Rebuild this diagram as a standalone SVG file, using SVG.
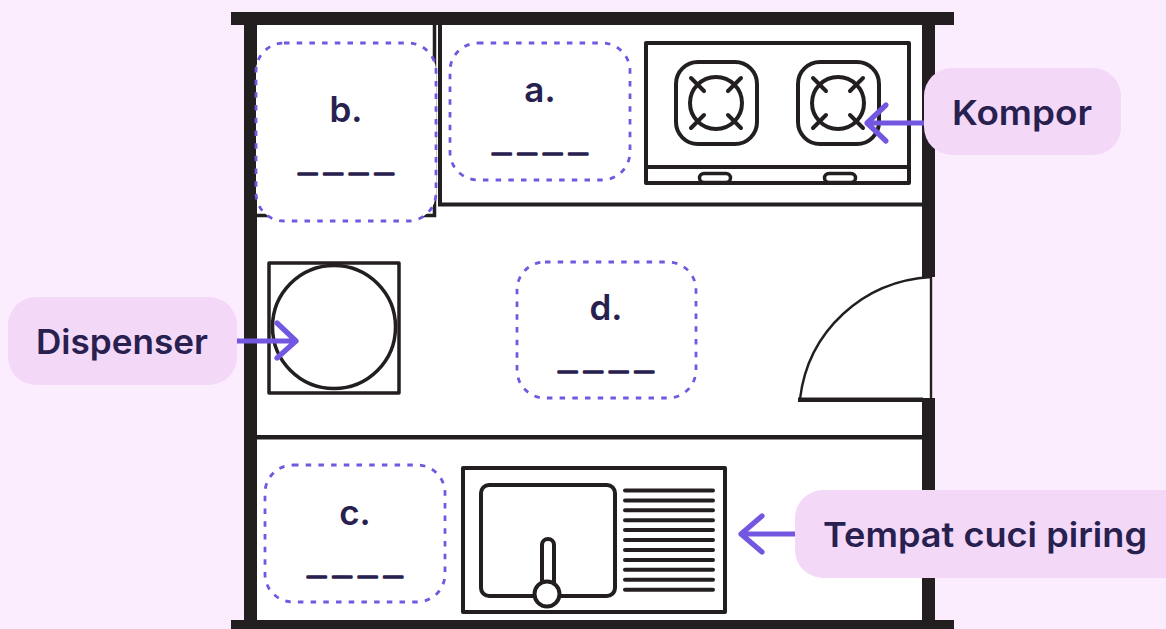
<svg xmlns="http://www.w3.org/2000/svg" width="1166" height="629" viewBox="0 0 1166 629">
<style>
text{font-family:"Inter","Lato","Liberation Sans",sans-serif;font-weight:600;fill:#28204f}
.lbl{font-size:34px}
.ans{font-size:35px}
.blank{font-family:"Lato","Liberation Sans",sans-serif;font-size:28px;letter-spacing:2.5px;stroke:#28204f;stroke-width:1.6px;stroke-linejoin:round}
.wall{fill:#231f20}
.ln{fill:none;stroke:#231f20;stroke-width:4;stroke-linejoin:round;stroke-linecap:round}
.thin{stroke-width:3.5}
.box{fill:#fff;stroke:#7357e0;stroke-width:2.8;stroke-dasharray:5.5 7.2}
.pill{fill:#f3d8f8}
.arrow{fill:none;stroke:#7357e0;stroke-width:5.2;stroke-linecap:round;stroke-linejoin:round}
</style>
<rect width="1166" height="629" fill="#fbedfe"/>
<g id="room">
<rect x="257" y="25" width="665" height="595" fill="#fff"/>
<path d="M922 277H931V398H922Z" fill="#fff"/>
<rect class="wall" x="231" y="12" width="723" height="13"/>
<rect class="wall" x="231" y="620" width="723" height="9"/>
<rect class="wall" x="244" y="25" width="13" height="595"/>
<rect class="wall" x="922" y="25" width="13" height="252"/>
<rect class="wall" x="922" y="398" width="13" height="222"/>
<rect class="wall" x="257" y="435" width="665" height="4.5"/>
<path d="M440 25V204.500H922" fill="none" stroke="#231f20" stroke-width="4"/>
<path d="M434.500 25V215.500H257" fill="none" stroke="#231f20" stroke-width="3.500"/>
</g>
<g id="door">
<path d="M931 277V399M800 399C808 331 863 281 931 277" fill="none" stroke="#231f20" stroke-width="2.400"/>
<rect class="wall" x="798" y="397.500" width="125" height="4.500"/>
</g>
<g id="stove">
<rect class="ln" x="646" y="43" width="263" height="140"/>
<path class="ln" d="M646 167H909"/>
<rect class="ln thin" x="699.500" y="173.500" width="31" height="9" rx="4.500"/>
<rect class="ln thin" x="824.500" y="173.500" width="31" height="9" rx="4.500"/>
<rect class="ln" x="676" y="62" width="81" height="82" rx="22"/>
<circle class="ln" cx="716" cy="103" r="26"/>
<path class="ln" d="M691 78L704 91M741 78L728 91M691 128L704 115M741 128L728 115"/>
<rect class="ln" x="798" y="62" width="81" height="82" rx="22"/>
<circle class="ln" cx="838" cy="103" r="26"/>
<path class="ln" d="M813 78L826 91M863 78L850 91M813 128L826 115M863 128L850 115"/>
</g>
<g id="dispenser">
<rect class="ln thin" x="269" y="263" width="130" height="130"/>
<circle class="ln thin" cx="334" cy="327" r="61.500"/>
</g>
<g id="sink">
<rect class="ln" x="463" y="468" width="262" height="144"/>
<rect class="ln" x="481" y="485" width="134" height="111" rx="8"/>
<rect class="ln" x="542" y="539" width="12" height="56" rx="6" fill="#fff"/>
<circle class="ln" cx="547" cy="594" r="12.500" style="fill:#fff"/>
<path class="ln" d="M625 490.500H713M625 500.400H713M625 510.300H713M625 520.200H713M625 530.100H713M625 540H713M625 550H713M625 559.900H713M625 569.800H713M625 579.700H713M625 589.700H713"/>
</g>
<g id="b">
<rect class="box" x="256" y="43" width="180" height="178" rx="28"/>
<text class="ans" x="346" y="122" text-anchor="middle">b.</text>
<text class="blank" x="297" y="171" textLength="102" lengthAdjust="spacingAndGlyphs">____</text>
</g>
<g id="a">
<rect class="box" x="450" y="43" width="180" height="137" rx="28"/>
<text class="ans" x="540" y="102" text-anchor="middle">a.</text>
<text class="blank" x="491" y="151" textLength="102" lengthAdjust="spacingAndGlyphs">____</text>
</g>
<g id="d">
<rect class="box" x="517" y="262" width="179" height="136" rx="28"/>
<text class="ans" x="606" y="320" text-anchor="middle">d.</text>
<text class="blank" x="557" y="369" textLength="102" lengthAdjust="spacingAndGlyphs">____</text>
</g>
<g id="c">
<rect class="box" x="265" y="465" width="180" height="137" rx="28"/>
<text class="ans" x="355" y="525" text-anchor="middle">c.</text>
<text class="blank" x="306" y="574" textLength="102" lengthAdjust="spacingAndGlyphs">____</text>
</g>
<g id="connectors">
<path class="arrow" d="M924 123H867M886 105L867 123L886 141"/>
<path class="arrow" d="M237 341H296M277 323L296 341L277 358"/>
<path class="arrow" d="M795 534H741M762 516L741 534L762 552"/>
</g>
<g id="kompor">
<rect class="pill" x="924" y="68" width="197" height="87" rx="28"/>
<text class="lbl" x="952" y="125" textLength="140" lengthAdjust="spacingAndGlyphs">Kompor</text>
</g>
<g id="dispenser-label">
<rect class="pill" x="8" y="297" width="229" height="88" rx="28"/>
<text class="lbl" x="36" y="354" textLength="172" lengthAdjust="spacingAndGlyphs">Dispenser</text>
</g>
<g id="sink-label">
<rect class="pill" x="795" y="490" width="400" height="88" rx="28"/>
<text class="lbl" x="823" y="547" textLength="324" lengthAdjust="spacingAndGlyphs">Tempat cuci piring</text>
</g>
</svg>
